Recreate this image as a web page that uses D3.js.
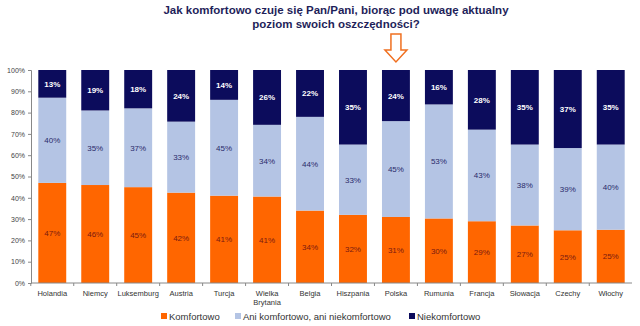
<!DOCTYPE html>
<html><head><meta charset="utf-8">
<script src="https://cdn.jsdelivr.net/npm/d3@7"></script>
<style>body{margin:0;background:#fff;} svg{display:block;font-family:Arial,"Liberation Sans",sans-serif;}</style>
</head><body><svg id="c" width="640" height="326"></svg>
<script>
const categories = ["Holandia","Niemcy","Luksemburg","Austria","Turcja","Wielka Brytania","Belgia","Hiszpania","Polska","Rumunia","Francja","Słowacja","Czechy","Włochy"];
const komfortowo = [47,46,45,42,41,41,34,32,31,30,29,27,25,25];
const ani = [40,35,37,33,45,34,44,33,45,53,43,38,39,40];
const niekomfortowo = [13,19,18,24,14,26,22,35,24,16,28,35,37,35];
const seriesNames = ["Komfortowo","Ani komfortowo, ani niekomfortowo","Niekomfortowo"];
const yTicks = [0,10,20,30,40,50,60,70,80,90,100];
const colors = ["#FF6600","#B4C4E4","#0C0C5C"];
const labelColors = ["#7A1A10","#2A2A6A","#FFFFFF"];

const svg = d3.select("#c");
const m = {l:31, r:8, t:70, b:43};
const W = 640, H = 326;
const x = d3.scaleBand().domain(categories).range([m.l, W - m.r]).paddingInner(0.35).paddingOuter(0.17);
const y = d3.scaleLinear().domain([0,100]).range([H - m.b, m.t]);

const data = categories.map((c,i)=>{
  const vals=[komfortowo[i],ani[i],niekomfortowo[i]];
  const tot=d3.sum(vals);
  return {cat:c, vals, pct: vals.map(v=>v/tot*100)};
});
const stack = d3.stack().keys([0,1,2]).value((d,k)=>d.pct[k]);
const layers = stack(data);

layers.forEach((layer,k)=>{
  const g = svg.append("g");
  g.selectAll("rect").data(layer).enter().append("rect")
    .attr("x", d=>x(d.data.cat)).attr("width", x.bandwidth())
    .attr("y", d=>y(d[1])).attr("height", d=>y(d[0])-y(d[1]))
    .attr("fill", colors[k]);
  g.selectAll("text").data(layer).enter().append("text")
    .attr("x", d=>x(d.data.cat)+x.bandwidth()/2)
    .attr("y", d=>(y(d[0])+y(d[1]))/2+3)
    .attr("text-anchor","middle")
    .attr("font-size", 8)
    .attr("font-weight", k===2?"bold":"normal")
    .attr("fill", labelColors[k])
    .text(d=>d.data.vals[k]+"%");
});

// y axis
const ya = svg.append("g").attr("transform",`translate(${m.l},0)`)
  .call(d3.axisLeft(y).tickValues(yTicks).tickFormat(d=>d+"%").tickSize(3));
ya.select(".domain").attr("stroke","#888");
ya.selectAll(".tick line").attr("stroke","#888");
ya.selectAll("text").attr("font-size",7).attr("fill","#444").attr("font-family","Arial,'Liberation Sans',sans-serif");

// x axis
const xa = svg.append("g").attr("transform",`translate(0,${H-m.b})`);
xa.append("line").attr("x1",m.l).attr("x2",W-m.r).attr("y1",0).attr("y2",0).attr("stroke","#888");
const step = x.step();
categories.forEach((c,i)=>{
  const bx = x(c) - (step - x.bandwidth())/2;
  xa.append("line").attr("x1",bx).attr("x2",bx).attr("y1",0).attr("y2",3).attr("stroke","#888");
});
const xt = xa.selectAll("text.cat").data(categories).enter().append("text")
  .attr("class","cat")
  .attr("x", d=>x(d)+x.bandwidth()/2).attr("y", 13)
  .attr("text-anchor","middle").attr("font-size",7.5).attr("fill","#333");
xt.each(function(d){
  const t=d3.select(this);
  if(d==="Wielka Brytania"){
    t.append("tspan").attr("x",x(d)+x.bandwidth()/2).attr("dy",0).text("Wielka");
    t.append("tspan").attr("x",x(d)+x.bandwidth()/2).attr("dy",9).text("Brytania");
  } else t.text(d);
});

// title
const tx = 336;
const title = svg.append("text").attr("x",tx).attr("y",14).attr("text-anchor","middle")
  .attr("font-size",11.5).attr("font-weight","bold").attr("fill","#1F1F5A");
title.append("tspan").attr("x",tx).attr("dy",0).text("Jak komfortowo czuje się Pan/Pani, biorąc pod uwagę aktualny");
title.append("tspan").attr("x",tx).attr("dy",13.5).text("poziom swoich oszczędności?");

// arrow above Polska
const ax = x("Polska")+x.bandwidth()/2;
const ap = [[ax-5,34],[ax+5,34],[ax+5,50],[ax+11,50],[ax,62],[ax-11,50],[ax-5,50]];
svg.append("polygon").attr("points", ap.map(p=>p.join(",")).join(" "))
  .attr("fill","#fff").attr("stroke","#F07020").attr("stroke-width",1.5);

// legend
const leg = [{x:161},{x:235},{x:409}];
seriesNames.forEach((n,k)=>{
  const g = svg.append("g").attr("transform",`translate(${leg[k].x},320)`);
  g.append("rect").attr("x",0).attr("y",-7).attr("width",6).attr("height",6).attr("fill",colors[k]);
  g.append("text").attr("x",8).attr("y",0).attr("font-size",9.5).attr("fill","#333").text(n);
});
</script></body></html>
